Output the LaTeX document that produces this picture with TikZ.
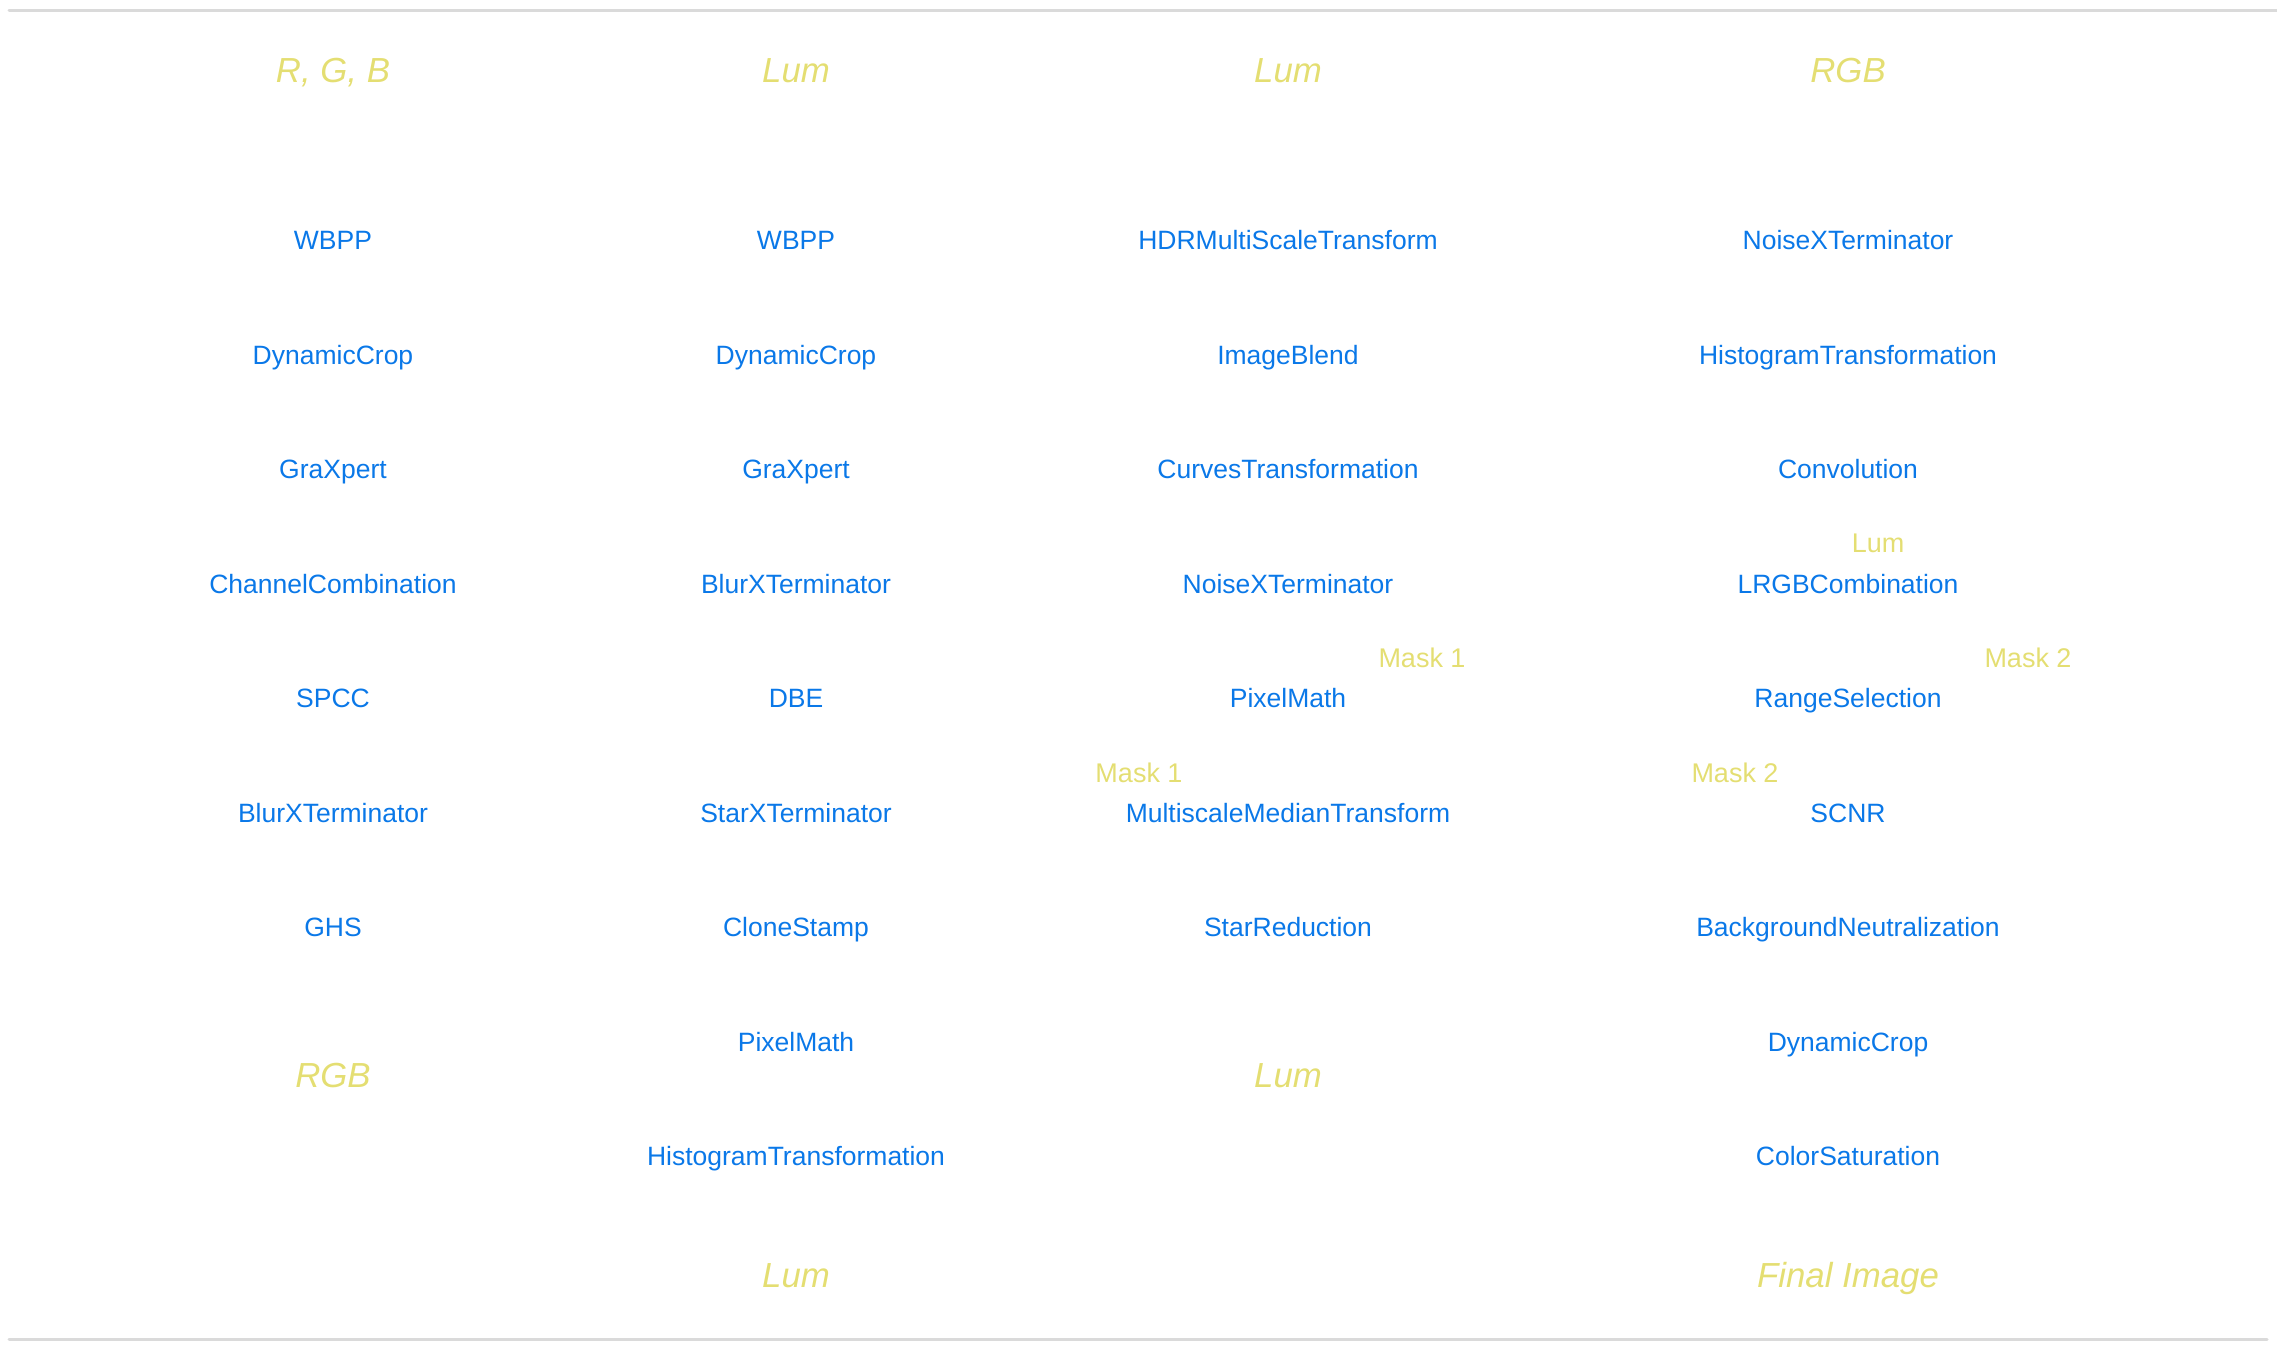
\documentclass[tikz,border=0pt]{standalone}
\usepackage{fontspec}
\setmainfont{Liberation Sans}
\definecolor{stepblue}{HTML}{0A78E8}
\definecolor{tagyellow}{HTML}{E4DE72}
\definecolor{rulegray}{HTML}{DADADA}
\tikzset{
  proc/.style={anchor=base, inner sep=0pt, text=stepblue, font=\fontsize{13.25pt}{15pt}\selectfont},
  head/.style={anchor=base, inner sep=0pt, text=tagyellow, font=\fontsize{17.4pt}{20pt}\selectfont\itshape},
  tag/.style={anchor=base, inner sep=0pt, text=tagyellow, font=\fontsize{13.5pt}{15pt}\selectfont},
  rulel/.style={draw=rulegray, line width=1.5pt, line cap=round}
}
\begin{document}
\begin{tikzpicture}[x=0.5pt,y=-0.5pt]
\useasboundingbox (0,0) rectangle (2277,1350);
\coordinate (tl) at (9,10.5);
\coordinate (tr) at (2277,10.5);
\coordinate (bl) at (9,1339);
\coordinate (br) at (2267,1339);
\draw[rulel] (tl) -- (tr);
\draw[rulel] (bl) -- (br);

% column 1
\node[head] (h1) at (333,82) {R, G, B};
\node[proc] (a1) at (333,249.5) {WBPP};
\node[proc] (a2) at (333,364) {DynamicCrop};
\node[proc] (a3) at (333,478.5) {GraXpert};
\node[proc] (a4) at (333,593) {ChannelCombination};
\node[proc] (a5) at (333,707.5) {SPCC};
\node[proc] (a6) at (333,822) {BlurXTerminator};
\node[proc] (a7) at (333,936.5) {GHS};
\node[head] (f1) at (333,1087) {RGB};

% column 2
\node[head] (h2) at (796,82) {Lum};
\node[proc] (b1) at (796,249.5) {WBPP};
\node[proc] (b2) at (796,364) {DynamicCrop};
\node[proc] (b3) at (796,478.5) {GraXpert};
\node[proc] (b4) at (796,593) {BlurXTerminator};
\node[proc] (b5) at (796,707.5) {DBE};
\node[proc] (b6) at (796,822) {StarXTerminator};
\node[proc] (b7) at (796,936.5) {CloneStamp};
\node[proc] (b8) at (796,1051) {PixelMath};
\node[proc] (b9) at (796,1165.5) {HistogramTransformation};
\node[head] (f2) at (796,1287) {Lum};

% column 3
\node[head] (h3) at (1288,82) {Lum};
\node[proc] (c1) at (1288,249.5) {HDRMultiScaleTransform};
\node[proc] (c2) at (1288,364) {ImageBlend};
\node[proc] (c3) at (1288,478.5) {CurvesTransformation};
\node[proc] (c4) at (1288,593) {NoiseXTerminator};
\node[proc] (c5) at (1288,707.5) {PixelMath};
\node[proc] (c6) at (1288,822) {MultiscaleMedianTransform};
\node[proc] (c7) at (1288,936.5) {StarReduction};
\node[head] (f3) at (1288,1087) {Lum};
\node[tag] (m1a) at (1422,667) {Mask 1};
\node[tag] (m1b) at (1139,782) {Mask 1};

% column 4
\node[head] (h4) at (1848,82) {RGB};
\node[proc] (d1) at (1848,249.5) {NoiseXTerminator};
\node[proc] (d2) at (1848,364) {HistogramTransformation};
\node[proc] (d3) at (1848,478.5) {Convolution};
\node[proc] (d4) at (1848,593) {LRGBCombination};
\node[proc] (d5) at (1848,707.5) {RangeSelection};
\node[proc] (d6) at (1848,822) {SCNR};
\node[proc] (d7) at (1848,936.5) {BackgroundNeutralization};
\node[proc] (d8) at (1848,1051) {DynamicCrop};
\node[proc] (d9) at (1848,1165.5) {ColorSaturation};
\node[head] (f4) at (1848,1287) {Final Image};
\node[tag] (lum) at (1878,552) {Lum};
\node[tag] (m2a) at (2028,667) {Mask 2};
\node[tag] (m2b) at (1735,782) {Mask 2};
\end{tikzpicture}
\end{document}
